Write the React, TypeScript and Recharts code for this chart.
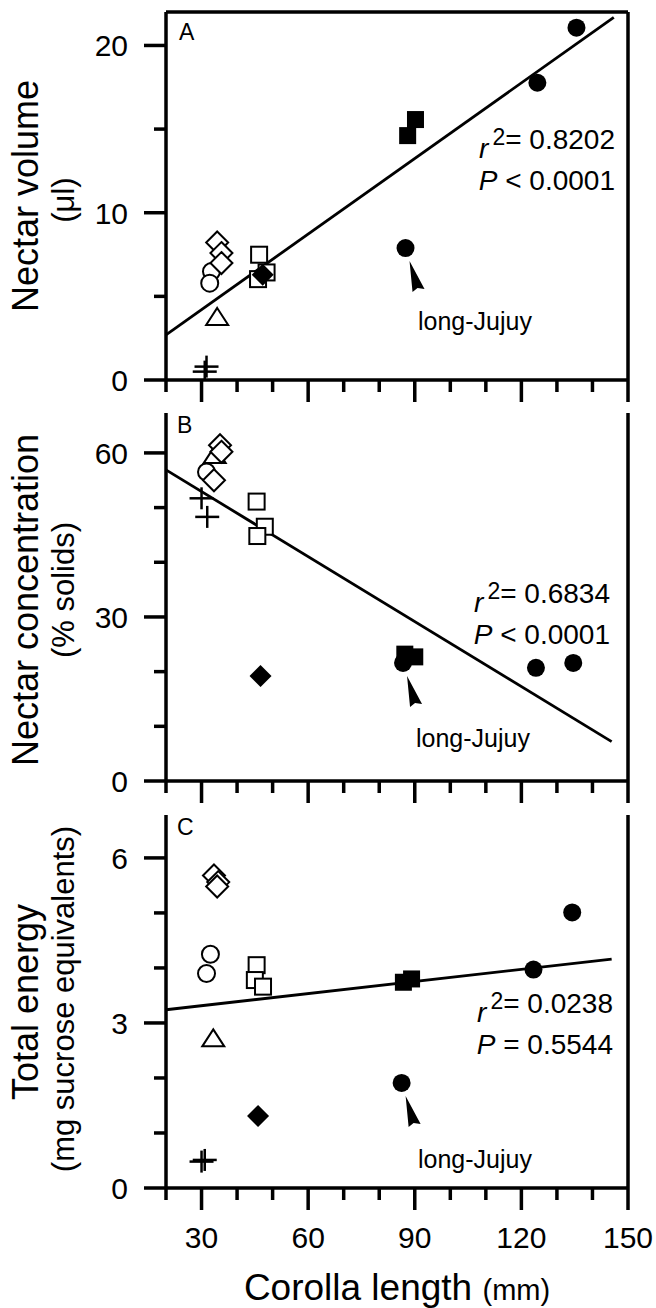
import React from 'react';
import { ScatterChart, Scatter, XAxis, YAxis, ReferenceLine } from 'recharts';

const FONT = "'Liberation Sans', Arial, Helvetica, sans-serif";

// ---- shared x axis ----
const xTicks = [20, 30, 40, 50, 60, 70, 80, 90, 100, 110, 120, 130, 140, 150];
const xMajor = [30, 60, 90, 120, 150];

// ---- Panel A: Nectar volume (µl) ----
const aCross = [{ x: 31.4, y: 0.8 }, { x: 30.9, y: 0.5 }];
const aOpenCircle = [{ x: 32.8, y: 6.49 }, { x: 32.3, y: 5.79 }];
const aOpenDiamond = [{ x: 34.4, y: 8.22 }, { x: 35.6, y: 7.59 }, { x: 35.6, y: 6.99 }];
const aTriangle = [{ x: 34.4, y: 3.77 }];
const aOpenSquare = [{ x: 46.2, y: 7.49 }, { x: 48.3, y: 6.43 }, { x: 45.9, y: 6.03 }];
const aFilledDiamond = [{ x: 47.2, y: 6.29 }];
const aFilledSquare = [{ x: 90.2, y: 15.57 }, { x: 88.0, y: 14.61 }];
const aFilledCircle = [{ x: 135.5, y: 21.06 }, { x: 124.5, y: 17.77 }];
const aLongJujuy = [{ x: 87.4, y: 7.89 }];
const aFit = [{ x: 20, y: 2.7 }, { x: 146, y: 21.68 }];
const aTicks = [0, 5, 10, 15, 20];
const aMajor = [0, 10, 20];

// ---- Panel B: Nectar concentration (% solids) ----
const bCross = [{ x: 30.0, y: 51.7 }, { x: 31.6, y: 48.3 }];
const bOpenCircle = [{ x: 31.4, y: 56.5 }];
const bOpenDiamond = [{ x: 35.2, y: 61.4 }, { x: 35.6, y: 60.2 }, { x: 33.5, y: 55.0 }];
const bTriangle = [{ x: 33.7, y: 59.6 }];
const bOpenSquare = [{ x: 45.5, y: 51.1 }, { x: 47.8, y: 46.5 }, { x: 45.7, y: 44.8 }];
const bFilledDiamond = [{ x: 46.6, y: 19.2 }];
const bFilledSquare = [{ x: 87.2, y: 23.2 }, { x: 90.0, y: 22.7 }];
const bFilledCircle = [{ x: 124.1, y: 20.7 }, { x: 134.6, y: 21.6 }];
const bLongJujuy = [{ x: 86.7, y: 21.6 }];
const bFit = [{ x: 20, y: 56.9 }, { x: 145.4, y: 7.2 }];
const bTicks = [0, 10, 20, 30, 40, 50, 60];
const bMajor = [0, 30, 60];

// ---- Panel C: Total energy (mg sucrose equivalents) ----
const cCross = [{ x: 30.0, y: 0.48 }, { x: 30.9, y: 0.51 }];
const cOpenCircle = [{ x: 32.5, y: 4.25 }, { x: 31.4, y: 3.9 }];
const cOpenDiamond = [{ x: 33.5, y: 5.68 }, { x: 34.7, y: 5.56 }, { x: 34.4, y: 5.48 }];
const cTriangle = [{ x: 33.3, y: 2.72 }];
const cOpenSquare = [{ x: 45.5, y: 4.05 }, { x: 45.0, y: 3.78 }, { x: 47.3, y: 3.66 }];
const cFilledDiamond = [{ x: 45.9, y: 1.31 }];
const cFilledSquare = [{ x: 86.8, y: 3.74 }, { x: 89.1, y: 3.8 }];
const cFilledCircle = [{ x: 123.4, y: 3.97 }, { x: 134.3, y: 5.01 }];
const cLongJujuy = [{ x: 86.3, y: 1.91 }];
const cFit = [{ x: 20, y: 3.24 }, { x: 145.4, y: 4.16 }];
const cTicks = [0, 1, 2, 3, 4, 5, 6];
const cMajor = [0, 3, 6];

const AXIS_W = 3.5;

// ---- marker shapes ----
const shapeFilledCircle = (p: any) => <circle cx={p.cx} cy={p.cy} r={9} fill="#000" />;
const shapeOpenCircle = (p: any) => (
  <circle cx={p.cx} cy={p.cy} r={8.5} fill="#fff" stroke="#000" strokeWidth={2} />
);
const shapeOpenSquare = (p: any) => (
  <rect x={p.cx - 8} y={p.cy - 8} width={16} height={16} fill="#fff" stroke="#000" strokeWidth={2} />
);
const shapeFilledSquare = (p: any) => (
  <rect x={p.cx - 8.5} y={p.cy - 8.5} width={17} height={17} fill="#000" />
);
const shapeOpenDiamond = (p: any) => (
  <polygon
    points={`${p.cx},${p.cy - 11} ${p.cx + 11},${p.cy} ${p.cx},${p.cy + 11} ${p.cx - 11},${p.cy}`}
    fill="#fff"
    stroke="#000"
    strokeWidth={2}
  />
);
const shapeFilledDiamond = (p: any) => (
  <polygon
    points={`${p.cx},${p.cy - 11} ${p.cx + 11},${p.cy} ${p.cx},${p.cy + 11} ${p.cx - 11},${p.cy}`}
    fill="#000"
  />
);
const shapeTriangle = (p: any) => (
  <polygon
    points={`${p.cx},${p.cy - 9} ${p.cx + 11},${p.cy + 8} ${p.cx - 11},${p.cy + 8}`}
    fill="#fff"
    stroke="#000"
    strokeWidth={2}
  />
);
const shapeCross = (p: any) => (
  <g>
    <line x1={p.cx - 12} x2={p.cx + 12} y1={p.cy} y2={p.cy} stroke="#000" strokeWidth={2.5} />
    <line x1={p.cx} x2={p.cx} y1={p.cy - 11} y2={p.cy + 11} stroke="#000" strokeWidth={2.5} />
  </g>
);
const shapeArrow = (p: any) => (
  <polygon
    points={`${p.cx + 4},${p.cy + 13} ${p.cx + 19},${p.cy + 41} ${p.cx + 12},${p.cy + 40} ${p.cx + 7},${p.cy + 44}`}
    fill="#000"
  />
);

// ---- axis ticks ----
const makeXTick = (showLabels: boolean) => (props: any) => {
  const { x, y, payload } = props;
  const major = xMajor.includes(payload.value);
  const len = major ? 22 : 12;
  return (
    <g>
      <line x1={x} x2={x} y1={y} y2={y + len} stroke="#000" strokeWidth={AXIS_W} />
      {showLabels && major && (
        <text x={x} y={y + 60} textAnchor="middle" fontSize={30} fontFamily={FONT} fill="#000">
          {payload.value}
        </text>
      )}
    </g>
  );
};

const makeYTick = (majors: number[]) => (props: any) => {
  const { x, y, payload } = props;
  const major = majors.includes(payload.value);
  const len = major ? 22 : 12;
  return (
    <g>
      <line x1={x - len} x2={x} y1={y} y2={y} stroke="#000" strokeWidth={AXIS_W} />
      {major && (
        <text x={x - 38} y={y} dy="0.36em" textAnchor="end" fontSize={30} fontFamily={FONT} fill="#000">
          {payload.value}
        </text>
      )}
    </g>
  );
};

type PanelProps = {
  top: number;
  height: number;
  marginTop: number;
  marginBottom: number;
  yMax: number;
  yTicks: number[];
  yMajor: number[];
  showXLabels: boolean;
  topLine: boolean;
  fit: { x: number; y: number }[];
  cross: any[];
  openCircle: any[];
  openDiamond: any[];
  triangle: any[];
  openSquare: any[];
  filledDiamond: any[];
  filledSquare: any[];
  filledCircle: any[];
  longJujuy: any[];
};

const X_AXIS_H = 30;
const Y_AXIS_W = 40;

function Panel(p: PanelProps) {
  return (
    <div style={{ position: 'absolute', left: 0, top: p.top }}>
      <ScatterChart
        width={656}
        height={p.height}
        margin={{ top: p.marginTop, right: 28, bottom: p.marginBottom - X_AXIS_H, left: 166 - Y_AXIS_W }}
      >
        <XAxis
          type="number"
          dataKey="x"
          domain={[20, 150]}
          ticks={xTicks}
          interval={0}
          allowDataOverflow
          height={X_AXIS_H}
          tickSize={0}
          tickMargin={0}
          tickLine={false}
          axisLine={{ stroke: '#000', strokeWidth: AXIS_W }}
          tick={makeXTick(p.showXLabels)}
        />
        <YAxis
          type="number"
          dataKey="y"
          domain={[0, p.yMax]}
          ticks={p.yTicks}
          interval={0}
          allowDataOverflow
          width={Y_AXIS_W}
          tickSize={0}
          tickMargin={0}
          tickLine={false}
          axisLine={{ stroke: '#000', strokeWidth: AXIS_W }}
          tick={makeYTick(p.yMajor)}
        />
        <ReferenceLine x={150} stroke="#000" strokeWidth={AXIS_W} ifOverflow="visible" />
        {p.topLine && <ReferenceLine y={p.yMax} stroke="#000" strokeWidth={AXIS_W} ifOverflow="visible" />}
        <ReferenceLine
          segment={[p.fit[0], p.fit[1]]}
          stroke="#000"
          strokeWidth={2.8}
          ifOverflow="visible"
        />
        <Scatter data={p.cross} shape={shapeCross} isAnimationActive={false} />
        <Scatter data={p.triangle} shape={shapeTriangle} isAnimationActive={false} />
        <Scatter data={p.openCircle} shape={shapeOpenCircle} isAnimationActive={false} />
        <Scatter data={p.openDiamond} shape={shapeOpenDiamond} isAnimationActive={false} />
        <Scatter data={p.openSquare} shape={shapeOpenSquare} isAnimationActive={false} />
        <Scatter data={p.filledDiamond} shape={shapeFilledDiamond} isAnimationActive={false} />
        <Scatter data={p.filledSquare} shape={shapeFilledSquare} isAnimationActive={false} />
        <Scatter data={p.filledCircle} shape={shapeFilledCircle} isAnimationActive={false} />
        <Scatter data={p.longJujuy} shape={shapeFilledCircle} isAnimationActive={false} />
        <Scatter data={p.longJujuy} shape={shapeArrow} isAnimationActive={false} />
      </ScatterChart>
    </div>
  );
}

const Stat = ({ x, y, r2, pText }: { x: number; y: number; r2: string; pText: string }) => (
  <g fontFamily={FONT} fontSize={28} fill="#000">
    <text x={x} y={y} textAnchor="end">
      <tspan fontStyle="italic" dy={9}>r</tspan>
      <tspan fontSize={23} dx={4} dy={-13}>2</tspan>
      <tspan dy={4}>= {r2}</tspan>
    </text>
    <text x={x} y={y + 41} textAnchor="end">
      <tspan fontStyle="italic">P</tspan>
      <tspan> {pText}</tspan>
    </text>
  </g>
);

export default function App() {
  return (
    <div style={{ position: 'absolute', left: 0, top: 0, width: 656, height: 1308, background: '#fff' }}>
      <Panel
        top={0}
        height={420}
        marginTop={12}
        marginBottom={40}
        yMax={22}
        yTicks={aTicks}
        yMajor={aMajor}
        showXLabels={false}
        topLine={true}
        fit={aFit}
        cross={aCross}
        openCircle={aOpenCircle}
        openDiamond={aOpenDiamond}
        triangle={aTriangle}
        openSquare={aOpenSquare}
        filledDiamond={aFilledDiamond}
        filledSquare={aFilledSquare}
        filledCircle={aFilledCircle}
        longJujuy={aLongJujuy}
      />
      <Panel
        top={400}
        height={420}
        marginTop={13}
        marginBottom={39}
        yMax={67.3}
        yTicks={bTicks}
        yMajor={bMajor}
        showXLabels={false}
        topLine={false}
        fit={bFit}
        cross={bCross}
        openCircle={bOpenCircle}
        openDiamond={bOpenDiamond}
        triangle={bTriangle}
        openSquare={bOpenSquare}
        filledDiamond={bFilledDiamond}
        filledSquare={bFilledSquare}
        filledCircle={bFilledCircle}
        longJujuy={bLongJujuy}
      />
      <Panel
        top={800}
        height={508}
        marginTop={15}
        marginBottom={120}
        yMax={6.78}
        yTicks={cTicks}
        yMajor={cMajor}
        showXLabels={true}
        topLine={false}
        fit={cFit}
        cross={cCross}
        openCircle={cOpenCircle}
        openDiamond={cOpenDiamond}
        triangle={cTriangle}
        openSquare={cOpenSquare}
        filledDiamond={cFilledDiamond}
        filledSquare={cFilledSquare}
        filledCircle={cFilledCircle}
        longJujuy={cLongJujuy}
      />
      <svg
        width={656}
        height={1308}
        style={{ position: 'absolute', left: 0, top: 0, pointerEvents: 'none' }}
      >
        <g fontFamily={FONT} fill="#000">
          {/* panel letters */}
          <text x={179} y={40} fontSize={23}>A</text>
          <text x={177} y={433} fontSize={23}>B</text>
          <text x={177} y={835} fontSize={23}>C</text>

          {/* y titles */}
          <text x={38} y={196} fontSize={36} textAnchor="middle" transform="rotate(-90 38 196)">Nectar volume</text>
          <text x={74} y={200} fontSize={31} textAnchor="middle" transform="rotate(-90 74 200)">(μl)</text>
          <text x={38} y={600} fontSize={36} textAnchor="middle" transform="rotate(-90 38 600)">Nectar concentration</text>
          <text x={74} y={590} fontSize={31} textAnchor="middle" transform="rotate(-90 74 590)">(% solids)</text>
          <text x={38} y={1002} fontSize={36} textAnchor="middle" transform="rotate(-90 38 1002)">Total energy</text>
          <text x={74} y={999} fontSize={31} textAnchor="middle" transform="rotate(-90 74 999)">(mg sucrose equivalents)</text>

          {/* x title */}
          <text x={397} y={1300} fontSize={37} textAnchor="middle">
            Corolla length <tspan fontSize={29}>(mm)</tspan>
          </text>

          {/* long-Jujuy labels */}
          <text x={418} y={330} fontSize={25}>long-Jujuy</text>
          <text x={416} y={747} fontSize={25}>long-Jujuy</text>
          <text x={418} y={1168} fontSize={25}>long-Jujuy</text>
        </g>
        <Stat x={615} y={149} r2="0.8202" pText="< 0.0001" />
        <Stat x={610} y={603} r2="0.6834" pText="< 0.0001" />
        <Stat x={613} y={1013} r2="0.0238" pText="= 0.5544" />
      </svg>
    </div>
  );
}
